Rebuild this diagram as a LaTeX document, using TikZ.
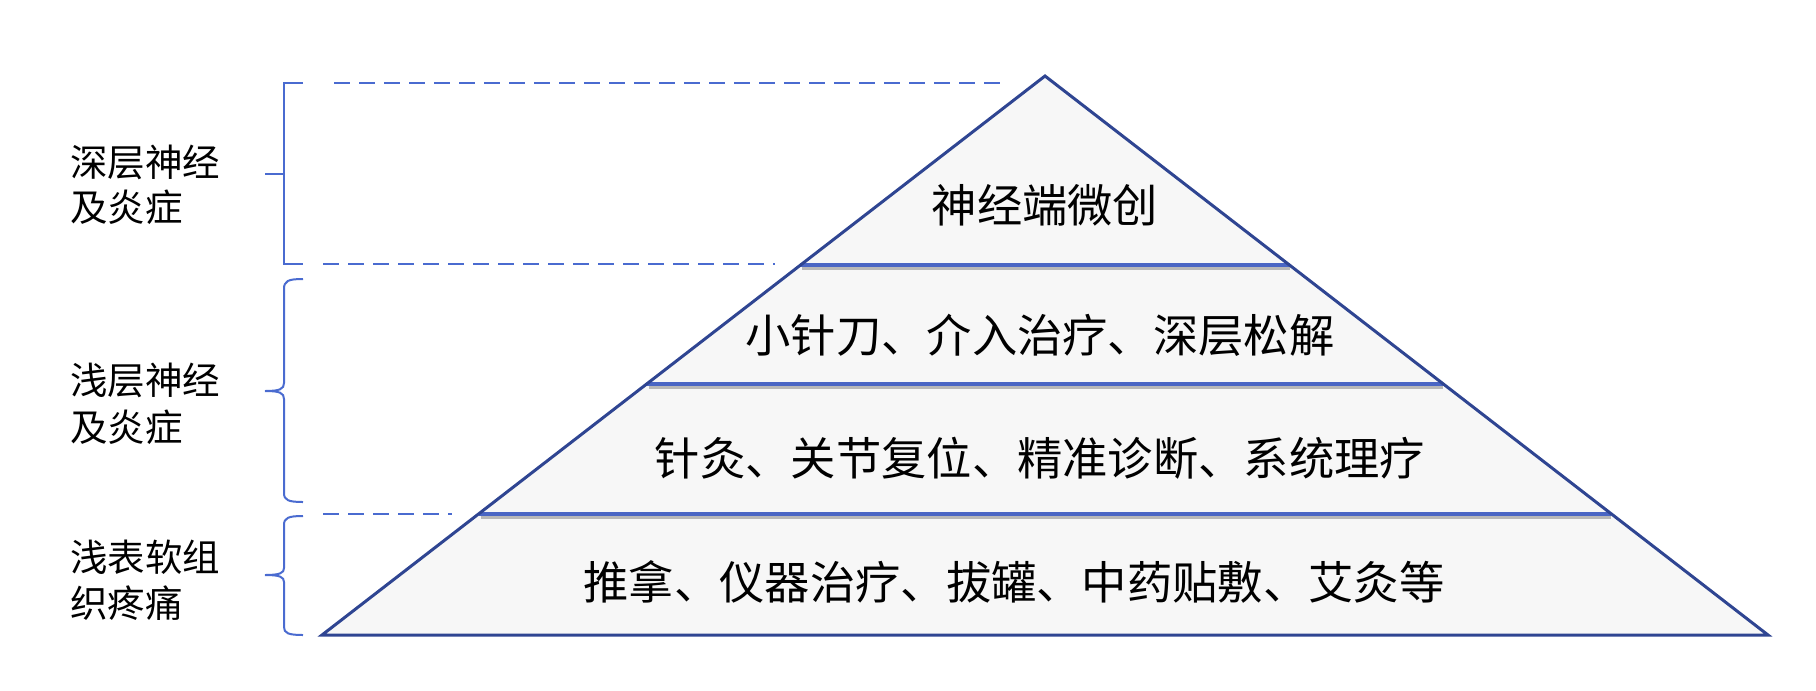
\documentclass[tikz,border=0pt]{standalone}
\usepackage{fontspec}
\usetikzlibrary{calc}
\setmainfont{Noto Sans CJK SC}
\definecolor{pyrline}{HTML}{2F4592}
\definecolor{divline}{HTML}{4A66C4}
\definecolor{brk}{HTML}{4A6BD0}
\definecolor{pyrfill}{HTML}{F7F7F7}
\definecolor{shad}{HTML}{B8B8B8}
\tikzset{
  pyrtext/.style={anchor=base, inner sep=0pt, font=\fontsize{45.3}{50}\selectfont, text=black},
  sidelabel/.style={anchor=base west, inner sep=0pt, font=\fontsize{37.5}{40}\selectfont, text=black},
  guide/.style={draw=brk, line width=2pt, dash pattern=on 16pt off 9pt},
  bracket/.style={draw=brk, line width=2pt},
  divider/.style={draw=divline, line width=3.2pt},
  divshadow/.style={draw=shad, line width=3pt},
}
\begin{document}
\begin{tikzpicture}[x=1pt, y=-1pt]
\useasboundingbox (0,0) rectangle (1816,691);
% pyramid corners
\coordinate (apex) at (1045,76);
\coordinate (bl) at (322,635);
\coordinate (br) at (1768,635);
\fill[pyrfill] (apex) -- (bl) -- (br) -- cycle;
% divider end points
\coordinate (d1l) at (800,265); \coordinate (d1r) at (1290,265);
\coordinate (d2l) at (647,384); \coordinate (d2r) at (1443,384);
\coordinate (d3l) at (479,514); \coordinate (d3r) at (1611,514);
% shadows (below each divider)
\draw[divshadow] ($(d1l)+(2,3.5)$) -- ($(d1r)+(0,3.5)$);
\draw[divshadow] ($(d2l)+(2,3.5)$) -- ($(d2r)+(0,3.5)$);
\draw[divshadow] ($(d3l)+(2,3.5)$) -- ($(d3r)+(0,3.5)$);
\draw[divider] (d1l) -- (d1r);
\draw[divider] (d2l) -- (d2r);
\draw[divider] (d3l) -- (d3r);
\draw[pyrline, line width=3pt, line join=miter] (apex) -- (bl) -- (br) -- cycle;
% pyramid texts
\node[pyrtext] (t1) at (1045,222) {神经端微创};
\node[pyrtext] (t2) at (1040,352) {小针刀、介入治疗、深层松解};
\node[pyrtext] (t3) at (1040,475) {针灸、关节复位、精准诊断、系统理疗};
\node[pyrtext] (t4) at (1014,599) {推拿、仪器治疗、拔罐、中药贴敷、艾灸等};
% dashed guides
\coordinate (g1a) at (334,83); \coordinate (g1b) at (1005,83);
\coordinate (g2a) at (323,264); \coordinate (g2b) at (775,264);
\coordinate (g3a) at (323,514); \coordinate (g3b) at (452,514);
\draw[guide] (g1a) -- (g1b);
\draw[guide] (g2a) -- (g2b);
\draw[guide] (g3a) -- (g3b);
% brackets
\draw[bracket] (303,83) -- (284,83) -- (284,264) -- (303,264);
\draw[bracket] (265,174) -- (284,174);
\draw[bracket] (303,279) .. controls (288,279) and (284,281) .. (284,289)
  -- (284,383) .. controls (284,389) and (280,391) .. (265,391)
  (265,391) .. controls (280,391) and (284,393) .. (284,399)
  -- (284,493) .. controls (284,500) and (288,502) .. (303,502);
\draw[bracket] (303,516) .. controls (288,516) and (284,518) .. (284,525)
  -- (284,568) .. controls (284,573) and (280,575) .. (265,575)
  (265,575) .. controls (280,575) and (284,577) .. (284,582)
  -- (284,627) .. controls (284,633) and (288,635) .. (303,635);
% side labels
\node[sidelabel] (l1a) at (70,176) {深层神经};
\node[sidelabel] (l1b) at (70,221) {及炎症};
\node[sidelabel] (l2a) at (70,394) {浅层神经};
\node[sidelabel] (l2b) at (70,441) {及炎症};
\node[sidelabel] (l3a) at (70,571) {浅表软组};
\node[sidelabel] (l3b) at (70,617) {织疼痛};
\end{tikzpicture}
\end{document}
